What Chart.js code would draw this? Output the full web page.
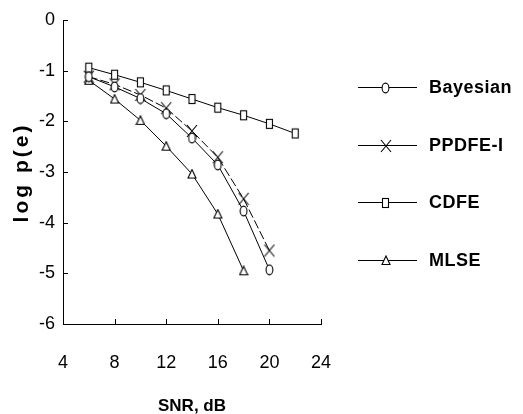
<!DOCTYPE html>
<html>
<head>
<meta charset="utf-8">
<script src="https://cdn.jsdelivr.net/npm/chart.js@4/dist/chart.umd.min.js"></script>
<style>
  html, body { margin: 0; padding: 0; background: #fff; }
  #wrap { width: 523px; height: 414px; position: relative; }
</style>
</head>
<body>
<div id="wrap"><canvas id="c" width="523" height="414"></canvas></div>
<script>
// SNR in dB and log10 of the bit error probability for each equaliser
const snrBayesian = [6, 8, 10, 12, 14, 16, 18, 20];
const bayesian    = [-1.12, -1.32, -1.55, -1.85, -2.33, -2.86, -3.77, -4.93];
const snrPPDFE    = [6, 8, 10, 12, 14, 16, 18, 20];
const ppdfe       = [-1.12, -1.27, -1.48, -1.74, -2.19, -2.71, -3.53, -4.55];
const snrCDFE     = [6, 8, 10, 12, 14, 16, 18, 20, 22];
const cdfe        = [-0.94, -1.08, -1.23, -1.39, -1.56, -1.73, -1.88, -2.05, -2.24];
const snrMLSE     = [6, 8, 10, 12, 14, 16, 18];
const mlse        = [-1.19, -1.56, -1.98, -2.49, -3.04, -3.83, -4.95];

const seriesNames = ['Bayesian', 'PPDFE-I', 'CDFE', 'MLSE'];
const xTicks = [4, 8, 12, 16, 20, 24];
const yTicks = [0, -1, -2, -3, -4, -5, -6];
const xTitle = 'SNR, dB';
const yTitle = 'log p(e)';

const FONT = '"Liberation Sans", Arial, sans-serif';

// Small open marker glyphs drawn once and reused as point styles
function glyph(w, h, draw) {
  const cv = document.createElement('canvas');
  cv.width = w; cv.height = h;
  const g = cv.getContext('2d');
  g.strokeStyle = '#000'; g.fillStyle = '#fff'; g.lineWidth = 1.1;
  draw(g, w, h);
  return cv;
}
const mkEllipse = glyph(9, 12, (g, w, h) => {
  g.beginPath(); g.ellipse(w / 2, h / 2, 3.4, 4.9, 0, 0, Math.PI * 2); g.fill(); g.stroke();
});
const mkX = glyph(12, 14, (g, w, h) => {
  g.beginPath(); g.moveTo(1, 1); g.lineTo(w - 1, h - 1); g.moveTo(w - 1, 1); g.lineTo(1, h - 1); g.stroke();
});
const mkRect = glyph(9, 12, (g, w, h) => {
  g.fillRect(1, 1, w - 2, h - 2); g.strokeRect(1.5, 1.5, w - 3, h - 3);
});
const mkTri = glyph(10, 11, (g, w, h) => {
  g.beginPath(); g.moveTo(w / 2, 1); g.lineTo(w - 1, h - 1.5); g.lineTo(1, h - 1.5); g.closePath(); g.fill(); g.stroke();
});

function pts(xs, ys) { return xs.map((x, i) => ({ x, y: ys[i] })); }

const datasets = [
  { label: seriesNames[0], data: pts(snrBayesian, bayesian), pointStyle: mkEllipse, borderDash: [] },
  { label: seriesNames[1], data: pts(snrPPDFE, ppdfe), pointStyle: mkX, borderDash: [9, 3] },
  { label: seriesNames[2], data: pts(snrCDFE, cdfe), pointStyle: mkRect, borderDash: [] },
  { label: seriesNames[3], data: pts(snrMLSE, mlse), pointStyle: mkTri, borderDash: [] }
].map(d => Object.assign(d, {
  borderColor: '#000', backgroundColor: '#fff', borderWidth: 1,
  pointRadius: 5, pointHoverRadius: 5, tension: 0, fill: false
}));

// Inward tick marks on both axes, plus the two axis titles
const axisDecor = {
  id: 'axisDecor',
  afterDraw(chart) {
    const { ctx, scales: { x, y } } = chart;
    ctx.save();
    ctx.strokeStyle = '#000'; ctx.lineWidth = 1;
    ctx.beginPath();
    xTicks.forEach(v => {
      if (v === 4) return;
      const px = Math.round(x.getPixelForValue(v)) + 0.5;
      ctx.moveTo(px, y.bottom); ctx.lineTo(px, y.bottom - 5);
    });
    yTicks.forEach(v => {
      if (v === -6) return;
      const py = Math.round(y.getPixelForValue(v)) + 0.5;
      ctx.moveTo(x.left, py); ctx.lineTo(x.left + 5, py);
    });
    ctx.stroke();

    ctx.fillStyle = '#000';
    ctx.textAlign = 'center'; ctx.textBaseline = 'middle';
    ctx.font = 'bold 17px ' + FONT;
    ctx.fillText(xTitle, (x.left + x.right) / 2, 406);

    ctx.save();
    ctx.translate(22, (y.top + y.bottom) / 2 + 2);
    ctx.rotate(-Math.PI / 2);
    ctx.font = 'bold 21px ' + FONT;
    ctx.letterSpacing = '3px';
    ctx.fillText(yTitle, 1.5, 0);
    ctx.restore();
    ctx.restore();
  }
};

// Key at the right: a short line with the series marker, then its name
const sideKey = {
  id: 'sideKey',
  afterDraw(chart) {
    const { ctx } = chart;
    const x0 = 358, x1 = 417, tx = 429, top = 87, gap = 57.7;
    ctx.save();
    chart.data.datasets.forEach((ds, i) => {
      const yy = Math.round(top + i * gap) + 0.5;
      ctx.strokeStyle = '#000'; ctx.lineWidth = 1;
      ctx.beginPath(); ctx.moveTo(x0, yy); ctx.lineTo(x1, yy); ctx.stroke();
      const img = ds.pointStyle;
      const mx = (x0 + x1) / 2 - 2;
      ctx.drawImage(img, Math.round(mx - img.width / 2), Math.round(yy - img.height / 2));
      ctx.fillStyle = '#000';
      ctx.font = 'bold 18px ' + FONT;
      ctx.letterSpacing = '0.5px';
      ctx.textBaseline = 'middle'; ctx.textAlign = 'left';
      ctx.fillText(ds.label, tx, yy + 1);
    });
    ctx.restore();
  }
};

new Chart(document.getElementById('c'), {
  type: 'line',
  data: { datasets },
  options: {
    responsive: false,
    animation: false,
    events: [],
    layout: { padding: { left: 0, right: 202, top: 20, bottom: 0 } },
    plugins: { legend: { display: false }, tooltip: { enabled: false } },
    scales: {
      x: {
        type: 'linear', min: 4, max: 24,
        afterBuildTicks(s) { s.ticks = xTicks.map(v => ({ value: v })); },
        afterFit(s) { s.height = 90; },
        grid: { display: false, drawTicks: false },
        border: { display: true, color: '#000', width: 1 },
        ticks: { color: '#000', padding: 28, font: { family: FONT, size: 18 }, maxRotation: 0 }
      },
      y: {
        type: 'linear', min: -6, max: 0,
        afterBuildTicks(s) { s.ticks = yTicks.slice().reverse().map(v => ({ value: v })); },
        afterFit(s) { s.width = 63; },
        grid: { display: false, drawTicks: false },
        border: { display: true, color: '#000', width: 1 },
        ticks: { color: '#000', padding: 8, font: { family: FONT, size: 18 } }
      }
    }
  },
  plugins: [axisDecor, sideKey]
});
</script>
</body>
</html>
